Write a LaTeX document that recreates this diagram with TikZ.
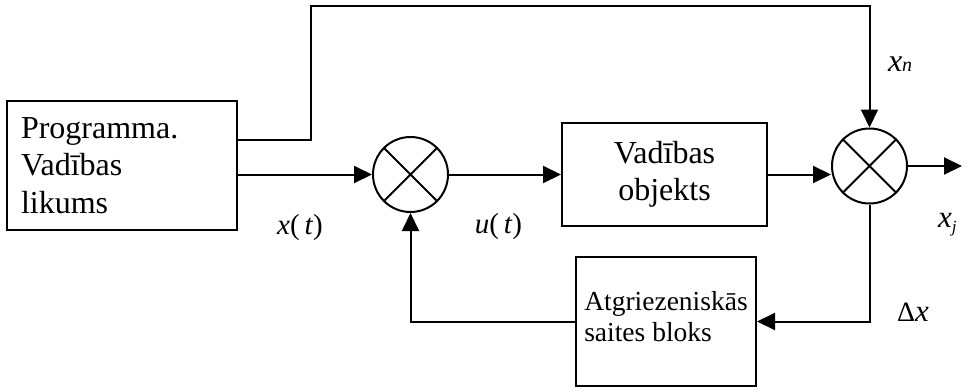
\documentclass[tikz,border=0pt]{standalone}
\usepackage{fontspec}
\setmainfont{Liberation Serif}
\usetikzlibrary{arrows.meta}
\begin{document}
\begin{tikzpicture}[x=1pt,y=-1pt,line width=2pt,
  >={Triangle[length=18pt,width=17pt]},
  block/.style={draw,rectangle,inner sep=0pt},
  sumnode/.style={draw,circle,minimum size=75pt,inner sep=0pt},
  lbl/.style={inner sep=0pt,font=\fontsize{29}{30}\selectfont},
  cross/.style={line width=1.8pt}]
\useasboundingbox (0,0) rectangle (969,389);

% blocks
\node[block,minimum width=230pt,minimum height=129pt,inner xsep=14pt,
      text width=202pt,align=left,font=\fontsize{32}{37.5}\selectfont]
      (prog) at (122,165.5) {Programma.\\Vadības\\likums};
\node[block,minimum width=205pt,minimum height=103pt,align=center,
      font=\fontsize{32}{37}\selectfont]
      (vo) at (664.5,174.5) {Vadības\\objekts};
\node[block,minimum width=180pt,minimum height=129pt,align=left,
      font=\fontsize{27.5}{31}\selectfont]
      (fb) at (666,321.5) {Atgriezeniskās\\saites bloks\strut};

% summing junctions
\node[sumnode] (s1) at (410.5,174.5) {};
\node[sumnode] (s2) at (869.5,166) {};
\foreach \s in {s1,s2}{
  \draw[cross] (\s.north west) -- (\s.south east)
               (\s.north east) -- (\s.south west);
}

% helper points
\coordinate (b1) at (311,140);
\coordinate (b2) at (311,6);
\coordinate (out) at (962,166);

% connectors
\draw[->] (prog.east |- b1) -| (b2) -| (s2.north);
\draw[->] (prog.east |- s1) -- (s1.west);
\draw[->] (s1.east) -- (vo.west);
\draw[->] (vo.east) -- (vo.east -| s2.west);
\draw[->] (s2.east) -- (out);
\draw[->] (s2.south) |- (fb.east);
\draw[->] (fb.west) -| (s1.south);

% signal labels
\node[lbl] (lx) at (300,227.5) {\textit{x}(\,\textit{t})};
\node[lbl] (lu) at (498.5,227) {\textit{u}(\,\textit{t})};
\node[lbl,anchor=base west] (lxn) at (887,71)
      {\fontsize{32}{32}\selectfont\textit{x}\fontsize{20}{20}\selectfont\textit{n}};
\node[lbl,anchor=base west] (lxj) at (937,227)
      {\fontsize{31}{31}\selectfont\textit{x}\raisebox{-5pt}{\fontsize{17}{17}\selectfont\textit{j}}};
\node[lbl,anchor=base west] (ldx) at (896,321)
      {\fontsize{28}{28}\selectfont Δ\fontsize{31}{31}\selectfont\textit{x}};
\end{tikzpicture}
\end{document}
